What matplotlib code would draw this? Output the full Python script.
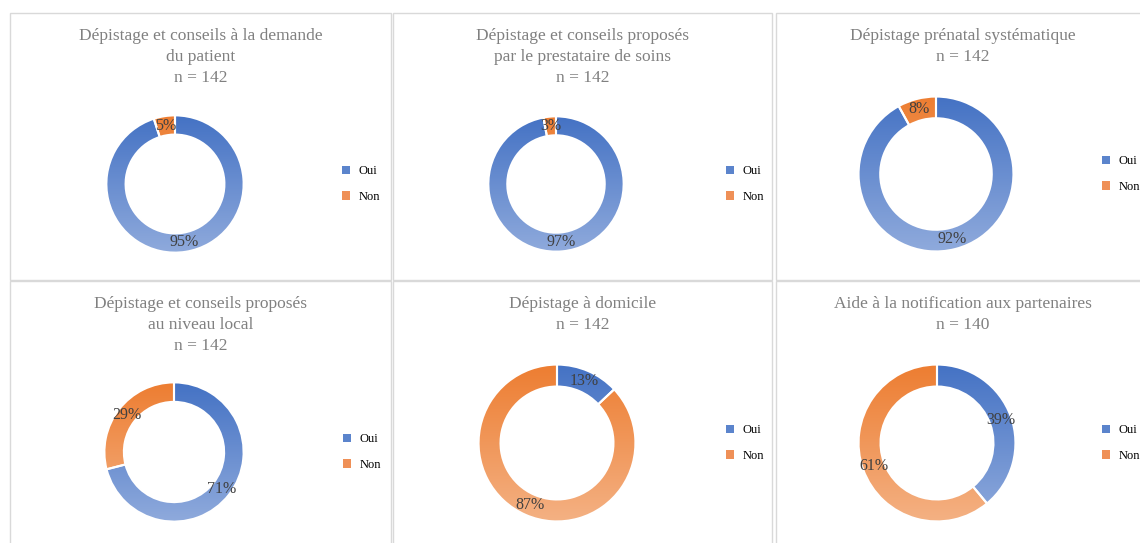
import numpy as np
import matplotlib.pyplot as plt
from matplotlib.colors import LinearSegmentedColormap
from matplotlib.patches import Patch, Rectangle

titles = [
    "Dépistage et conseils à la demande\ndu patient\nn = 142",
    "Dépistage et conseils proposés\npar le prestataire de soins\nn = 142",
    "Dépistage prénatal systématique\nn = 142",
    "Dépistage et conseils proposés\nau niveau local\nn = 142",
    "Dépistage à domicile\nn = 142",
    "Aide à la notification aux partenaires\nn = 140",
]
categories = ["Oui", "Non"]
oui = [95, 97, 92, 71, 13, 39]
non = [5, 3, 8, 29, 87, 61]

W, H = 1140, 543
fig = plt.figure(figsize=(W / 100, H / 100), dpi=100)
fig.patch.set_facecolor("white")

# layout in pixels (from the reference)
panels = [(10, 13, 391, 280), (393, 13, 772, 280), (776, 13, 1160, 280),
          (10, 281, 391, 560), (393, 281, 772, 560), (776, 281, 1160, 560)]
centers = [(175, 184, 70), (556, 184, 69), (936, 174, 79),
           (174, 452, 71), (557, 443, 80), (937, 443, 80)]
title_top = [28, 28, 28, 296, 296, 296]
legend_pos = [(342, 184), (726, 184), (1102, 174), (343, 452), (726, 443), (1102, 443)]

blue_cm = LinearSegmentedColormap.from_list("b", ["#4472C4", "#8FAADC"])
orange_cm = LinearSegmentedColormap.from_list("o", ["#ED7D31", "#F4B183"])
grad = np.linspace(0, 1, 256).reshape(-1, 1)

for (x0, y0, x1, y1) in panels:
    fig.patches.append(Rectangle((x0 / W, 1 - y1 / H), (x1 - x0) / W, (y1 - y0) / H,
                                 transform=fig.transFigure, fill=False,
                                 edgecolor="#D9D9D9", linewidth=1))

for i in range(6):
    cx, cy, r = centers[i]
    ax = fig.add_axes([(cx - r) / W, 1 - (cy + r) / H, 2 * r / W, 2 * r / H])
    wedges, texts, autotexts = ax.pie(
        [oui[i], non[i]], radius=1, startangle=90, counterclock=False,
        wedgeprops=dict(width=0.28, edgecolor="white", linewidth=1.5),
        autopct=lambda p: f"{p:.0f}%", pctdistance=0.86,
        textprops=dict(family="Liberation Serif", fontsize=11.5, color="#404040"))
    # vertical gradient fill, dark at the top, light at the bottom
    for w, cm in zip(wedges, [blue_cm, orange_cm]):
        w.set_facecolor("none")
        w.set_zorder(2)
        im = ax.imshow(grad, cmap=cm, extent=(-1, 1, -1, 1), aspect="auto",
                       origin="upper", zorder=1)
        im.set_clip_path(w)
    for t in autotexts:
        t.set_zorder(3)
    ax.set_xlim(-1.02, 1.02)
    ax.set_ylim(-1.02, 1.02)
    ax.axis("off")

    px = (panels[i][0] + panels[i][2]) / 2
    if i % 3 == 2:
        px = 963
    fig.text(px / W, 1 - title_top[i] / H, titles[i], ha="center", va="top",
             family="Liberation Serif", fontsize=12.5, color="#808080",
             linespacing=1.4)

    lx, ly = legend_pos[i]
    handles = [Patch(facecolor="#5B84CC", edgecolor="none"),
               Patch(facecolor="#EF9057", edgecolor="none")]
    fig.legend(handles, categories, loc="center left",
               bbox_to_anchor=(lx / W, 1 - ly / H), frameon=False,
               handlelength=0.65, handleheight=0.65, handletextpad=0.7,
               labelspacing=1.1, borderpad=0, borderaxespad=0,
               prop=dict(family="Liberation Serif", size=9))

fig.savefig("out.png", dpi=100, facecolor="white")
